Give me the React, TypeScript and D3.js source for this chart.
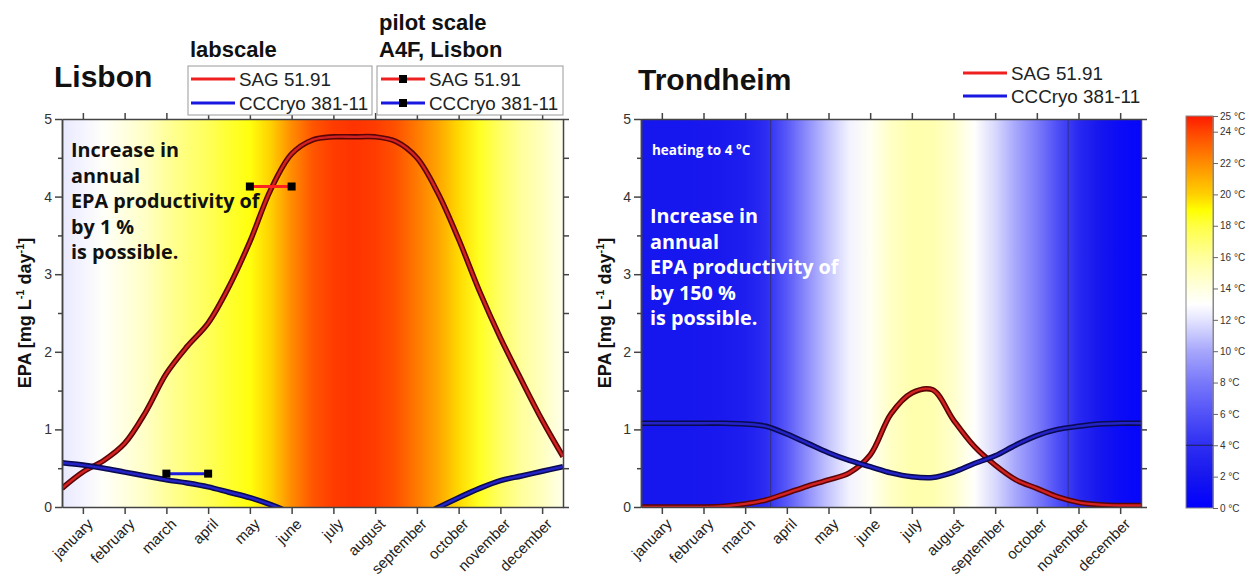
import React, { useRef, useEffect } from "react";
import * as d3 from "d3";

// month labels on the x axis (tick at 1..12)
const months = [
  "january", "february", "march", "april", "may", "june",
  "july", "august", "september", "october", "november", "december",
];
const monthTicks = [1, 2, 3, 4, 5, 6, 7, 8, 9, 10, 11, 12];

const monthPos = [
  0.5, 1, 1.5, 2, 2.5, 3, 3.5, 4, 4.5, 5, 5.5, 6, 6.5,
  7, 7.5, 8, 8.5, 9, 9.5, 10, 10.5, 11, 11.5, 12, 12.5,
];

// Lisbon
const lisbonSag = [
  0.24, 0.45, 0.6, 0.82, 1.22, 1.72, 2.07, 2.37, 2.84, 3.42, 4.09, 4.55, 4.73,
  4.77, 4.77, 4.77, 4.71, 4.5, 4.05, 3.45, 2.78, 2.18, 1.64, 1.12, 0.65,
];
const lisbonCryo = [
  0.57, 0.54, 0.5, 0.45, 0.4, 0.35, 0.31, 0.26, 0.19, 0.12, 0.03, -0.08, null,
  null, null, null, null, -0.15, -0.01, 0.12, 0.24, 0.34, 0.4, 0.46, 0.52,
];
const lisbonTemp = [
  12.2, 12.6, 13.2, 14, 14.8, 16, 16.8, 17.5, 18.3, 18.8, 20, 22, 23.5,
  24.2, 24.4, 24.2, 23.6, 22.5, 21.3, 19.8, 18.5, 17.2, 16, 15, 13.6,
];
// pilot scale (A4F, Lisbon)
const pilotSagMonths = [5, 6];
const pilotSag = [4.13, 4.13];
const pilotCryoMonths = [3, 4];
const pilotCryo = [0.43, 0.43];

// Trondheim
const trondheimSag = [
  0, 0, 0, 0, 0.01, 0.04, 0.09, 0.18, 0.27, 0.35, 0.44, 0.67, 1.2,
  1.47, 1.51, 1.12, 0.78, 0.54, 0.35, 0.24, 0.13, 0.06, 0.03, 0.02, 0.02,
];
const trondheimCryo = [
  1.08, 1.08, 1.08, 1.08, 1.08, 1.07, 1.04, 0.94, 0.82, 0.7, 0.6, 0.52, 0.44,
  0.39, 0.38, 0.45, 0.56, 0.66, 0.8, 0.92, 1.0, 1.04, 1.07, 1.08, 1.08,
];
const trondheimTemp = [
  2, 2, 2, 2.1, 2.3, 2.7, 3.8, 6.3, 9, 11, 12.5, 13.4, 14.8,
  15.5, 15.4, 14.6, 13.1, 11.6, 10, 8.2, 5.8, 3.6, 2, 1, 0.5,
];
const heatingBounds = [3.61, 10.75];

const yTicks = [0, 1, 2, 3, 4, 5];
const yMinor = [0.5, 1.5, 2.5, 3.5, 4.5];

// colour scale of the temperature bar
const tempStops = [0, 2, 4, 6, 8, 10, 12, 13, 14, 16, 18, 19, 20, 22, 24, 25];
const tempColors = [
  "#0000ff", "#1616ee", "#2e2ef2", "#5252f8", "#7878fa", "#a6a6fc", "#e4e4ff",
  "#ffffff", "#ffffe0", "#ffff9c", "#ffff44", "#ffff00", "#ffd000", "#ff8c00",
  "#ff4400", "#ff1a00",
];
const tempTicks = [0, 2, 4, 6, 8, 10, 12, 14, 16, 18, 20, 22, 24, 25];

const FONT = "'Liberation Sans', Arial, sans-serif";
const TEXT_FONT = "'Open Sans', 'Noto Sans', sans-serif";

const App = () => {
  const svgRef = useRef<SVGSVGElement>(null);

  useEffect(() => {
    const svg = d3.select(svgRef.current);
    svg.selectAll("*").remove();
    const defs = svg.append("defs");

    const tempColor = d3
      .scaleLinear<string>()
      .domain(tempStops)
      .range(tempColors)
      .clamp(true);

    const styleAxis = (g: any) => {
      g.select(".domain").attr("stroke", "#444").attr("stroke-width", 1.5);
      g.selectAll(".tick line").attr("stroke", "#444").attr("stroke-width", 1.5);
      g.selectAll(".tick text")
        .attr("fill", "#333")
        .attr("font-size", 14)
        .attr("font-family", FONT);
    };

    const drawPanel = (cfg: any) => {
      const { id, x0, x1, y0, y1, sag, cryo, temps } = cfg;
      const x = d3.scaleLinear().domain([0.5, 12.5]).range([x0, x1]);
      const y = d3.scaleLinear().domain([0, 5]).range([y1, y0]);

      // temperature background
      const grad = defs
        .append("linearGradient")
        .attr("id", `bg-${id}`)
        .attr("x1", "0%")
        .attr("x2", "100%")
        .attr("y1", "0%")
        .attr("y2", "0%");
      monthPos.forEach((m, i) => {
        grad
          .append("stop")
          .attr("offset", `${((m - 0.5) / 12) * 100}%`)
          .attr("stop-color", tempColor(temps[i]));
      });
      svg
        .append("rect")
        .attr("x", x0)
        .attr("y", y0)
        .attr("width", x1 - x0)
        .attr("height", y1 - y0)
        .attr("fill", `url(#bg-${id})`);

      defs
        .append("clipPath")
        .attr("id", `clip-${id}`)
        .append("rect")
        .attr("x", x0)
        .attr("y", y0)
        .attr("width", x1 - x0)
        .attr("height", y1 - y0);

      const plot = svg.append("g").attr("clip-path", `url(#clip-${id})`);

      if (cfg.heating) {
        plot
          .selectAll(".heat")
          .data(cfg.heating)
          .enter()
          .append("line")
          .attr("x1", (d: number) => x(d))
          .attr("x2", (d: number) => x(d))
          .attr("y1", y0)
          .attr("y2", y1)
          .attr("stroke", "#303060")
          .attr("stroke-opacity", 0.75)
          .attr("stroke-width", 1);
      }

      const line = d3
        .line<number | null>()
        .defined((d) => d !== null)
        .x((_, i) => x(monthPos[i]))
        .y((d) => y(d as number))
        .curve(d3.curveCatmullRom.alpha(0.5));

      const drawCurve = (vals: (number | null)[], dark: string, light: string) => {
        plot
          .append("path")
          .attr("d", line(vals))
          .attr("fill", "none")
          .attr("stroke", dark)
          .attr("stroke-width", 5.5);
        plot
          .append("path")
          .attr("d", line(vals))
          .attr("fill", "none")
          .attr("stroke", light)
          .attr("stroke-width", 2.4);
      };
      drawCurve(sag, "#5a0505", "#d42222");
      drawCurve(cryo, "#0a0a50", "#2323c8");

      if (cfg.pilot) {
        const drawPilot = (ms: number[], vs: number[], color: string) => {
          plot
            .append("line")
            .attr("x1", x(ms[0]))
            .attr("x2", x(ms[1]))
            .attr("y1", y(vs[0]))
            .attr("y2", y(vs[1]))
            .attr("stroke", color)
            .attr("stroke-width", 3);
          plot
            .selectAll(null)
            .data(ms)
            .enter()
            .append("rect")
            .attr("x", (d: number) => x(d) - 4)
            .attr("y", (_: number, i: number) => y(vs[i]) - 4)
            .attr("width", 8)
            .attr("height", 8)
            .attr("fill", "#000");
        };
        drawPilot(pilotSagMonths, pilotSag, "#ff2020");
        drawPilot(pilotCryoMonths, pilotCryo, "#1a1ae0");
      }

      // annotation text
      const note = svg
        .append("text")
        .attr("font-family", TEXT_FONT)
        .attr("font-weight", "bold")
        .attr("font-size", 19.8)
        .attr("fill", cfg.noteColor);
      cfg.note.forEach((t: string, i: number) => {
        note
          .append("tspan")
          .attr("x", x0 + 9)
          .attr("y", cfg.noteY + i * 25.5)
          .text(t);
      });

      if (cfg.heatingNote) {
        svg
          .append("text")
          .attr("x", x0 + 11)
          .attr("y", y0 + 36)
          .attr("font-family", TEXT_FONT)
          .attr("font-weight", "bold")
          .attr("font-size", 13.5)
          .attr("fill", "#fff")
          .text(cfg.heatingNote);
      }

      // axes
      const bottom = svg
        .append("g")
        .attr("transform", `translate(0,${y1})`)
        .call(d3.axisBottom(x).tickValues(monthTicks).tickSize(7).tickSizeOuter(0).tickFormat(() => ""));
      styleAxis(bottom);
      const top = svg
        .append("g")
        .attr("transform", `translate(0,${y0})`)
        .call(d3.axisTop(x).tickValues(monthTicks).tickSize(6).tickSizeOuter(0).tickFormat(() => ""));
      styleAxis(top);
      const leftMinor = svg
        .append("g")
        .attr("transform", `translate(${x0},0)`)
        .call(d3.axisLeft(y).tickValues(yMinor).tickSize(4).tickSizeOuter(0).tickFormat(() => ""));
      styleAxis(leftMinor);
      const left = svg
        .append("g")
        .attr("transform", `translate(${x0},0)`)
        .call(d3.axisLeft(y).tickValues(yTicks).tickSize(7).tickSizeOuter(0).tickFormat(d3.format("d")));
      styleAxis(left);
      const right = svg
        .append("g")
        .attr("transform", `translate(${x1},0)`)
        .call(
          d3
            .axisRight(y)
            .tickValues([...yTicks, ...yMinor])
            .tickSize(6)
            .tickSizeOuter(0)
            .tickFormat(() => "")
        );
      styleAxis(right);

      svg
        .append("g")
        .selectAll("text")
        .data(months)
        .enter()
        .append("text")
        .attr("transform", (_: string, i: number) => `translate(${x(monthTicks[i]) + 11},${y1 + 18}) rotate(-45)`)
        .attr("text-anchor", "end")
        .attr("font-family", FONT)
        .attr("font-size", 15)
        .attr("fill", "#222")
        .text((d: string) => d);

      // y axis title
      const yt = svg
        .append("text")
        .attr("transform", `translate(${cfg.yTitleX},${(y0 + y1) / 2}) rotate(-90)`)
        .attr("text-anchor", "middle")
        .attr("font-family", FONT)
        .attr("font-weight", "bold")
        .attr("font-size", 18)
        .attr("fill", "#111");
      yt.append("tspan").text("EPA [mg L");
      yt.append("tspan").attr("font-size", 11).attr("dy", -7).text("-1");
      yt.append("tspan").attr("dy", 7).text(" day");
      yt.append("tspan").attr("font-size", 11).attr("dy", -7).text("-1");
      yt.append("tspan").attr("dy", 7).text("]");

      // panel title
      svg
        .append("text")
        .attr("x", cfg.titleX)
        .attr("y", cfg.titleY)
        .attr("font-family", FONT)
        .attr("font-weight", "bold")
        .attr("font-size", 30)
        .attr("fill", "#111")
        .text(cfg.title);
    };

    drawPanel({
      id: "lisbon",
      x0: 62,
      x1: 563,
      y0: 119,
      y1: 507,
      sag: lisbonSag,
      cryo: lisbonCryo,
      temps: lisbonTemp,
      pilot: true,
      noteColor: "#111",
      noteY: 157,
      note: ["Increase in", "annual", "EPA productivity of", "by 1 %", "is possible."],
      yTitleX: 31,
      title: "Lisbon",
      titleX: 54,
      titleY: 87,
    });

    drawPanel({
      id: "trondheim",
      x0: 641,
      x1: 1141,
      y0: 119,
      y1: 507,
      sag: trondheimSag,
      cryo: trondheimCryo,
      temps: trondheimTemp,
      heating: heatingBounds,
      heatingNote: "heating to 4 °C",
      noteColor: "#fff",
      noteY: 223,
      note: ["Increase in", "annual", "EPA productivity of", "by 150 %", "is possible."],
      yTitleX: 611,
      title: "Trondheim",
      titleX: 638,
      titleY: 90,
    });

    // legends
    const legendFont = 18.8;
    const addEntry = (g: any, lx: number, ly: number, color: string, label: string, marker: boolean) => {
      g.append("line")
        .attr("x1", lx)
        .attr("x2", lx + 44)
        .attr("y1", ly)
        .attr("y2", ly)
        .attr("stroke", color)
        .attr("stroke-width", 3);
      if (marker) {
        g.append("rect")
          .attr("x", lx + 18)
          .attr("y", ly - 4)
          .attr("width", 8)
          .attr("height", 8)
          .attr("fill", "#000");
      }
      g.append("text")
        .attr("x", lx + 48)
        .attr("y", ly)
        .attr("dy", "0.35em")
        .attr("font-family", FONT)
        .attr("font-size", legendFont)
        .attr("fill", "#222")
        .text(label);
    };
    const legend = svg.append("g");
    legend
      .append("rect")
      .attr("x", 188)
      .attr("y", 66)
      .attr("width", 184)
      .attr("height", 49)
      .attr("fill", "#fff")
      .attr("stroke", "#999");
    legend
      .append("rect")
      .attr("x", 377)
      .attr("y", 66)
      .attr("width", 186)
      .attr("height", 49)
      .attr("fill", "#fff")
      .attr("stroke", "#999");
    addEntry(legend, 191, 79, "#ee2020", "SAG 51.91", false);
    addEntry(legend, 191, 103, "#1818e0", "CCCryo 381-11", false);
    addEntry(legend, 381, 79, "#ee2020", "SAG 51.91", true);
    addEntry(legend, 381, 103, "#1818e0", "CCCryo 381-11", true);
    addEntry(legend, 963, 73, "#ee2020", "SAG 51.91", false);
    addEntry(legend, 963, 96, "#1818e0", "CCCryo 381-11", false);

    const heads = [
      { t: "labscale", x: 190, y: 57 },
      { t: "pilot scale", x: 379, y: 30 },
      { t: "A4F, Lisbon", x: 379, y: 57 },
    ];
    svg
      .append("g")
      .selectAll("text")
      .data(heads)
      .enter()
      .append("text")
      .attr("x", (d: any) => d.x)
      .attr("y", (d: any) => d.y)
      .attr("font-family", FONT)
      .attr("font-weight", "bold")
      .attr("font-size", 22)
      .attr("fill", "#111")
      .text((d: any) => d.t);

    // colour bar
    const cy = d3.scaleLinear().domain([0, 25]).range([508, 116]);
    const cgrad = defs
      .append("linearGradient")
      .attr("id", "cbar")
      .attr("x1", "0%")
      .attr("x2", "0%")
      .attr("y1", "100%")
      .attr("y2", "0%");
    tempStops.forEach((t, i) => {
      cgrad
        .append("stop")
        .attr("offset", `${(t / 25) * 100}%`)
        .attr("stop-color", tempColors[i]);
    });
    svg
      .append("rect")
      .attr("x", 1186)
      .attr("y", cy(25))
      .attr("width", 27)
      .attr("height", cy(0) - cy(25))
      .attr("fill", "url(#cbar)")
      .attr("stroke", "#888")
      .attr("stroke-width", 1);
    svg
      .append("line")
      .attr("x1", 1186)
      .attr("x2", 1213)
      .attr("y1", cy(4))
      .attr("y2", cy(4))
      .attr("stroke", "#202050")
      .attr("stroke-width", 1);
    const cax = svg
      .append("g")
      .attr("transform", "translate(1213,0)")
      .call(
        d3
          .axisRight(cy)
          .tickValues(tempTicks)
          .tickSize(5)
          .tickSizeOuter(0)
          .tickFormat((d: any) => `${d} °C`)
      );
    cax.select(".domain").attr("stroke", "#888");
    cax.selectAll(".tick line").attr("stroke", "#666");
    cax
      .selectAll(".tick text")
      .attr("font-family", FONT)
      .attr("font-size", 10)
      .attr("fill", "#333")
      .attr("x", 7);
  }, []);

  return (
    <svg
      ref={svgRef}
      width={1256}
      height={578}
      style={{ position: "absolute", left: 0, top: 0, background: "#fff" }}
    ></svg>
  );
};

export default App;
